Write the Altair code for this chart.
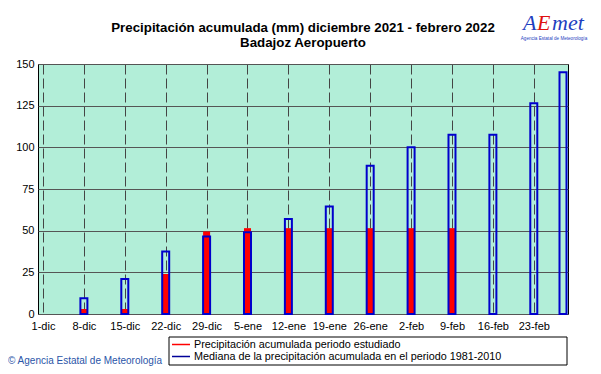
import altair as alt
import pandas as pd

# ---- data ----
period_start = "2021-12-01"
bar_dates = ["2021-12-08", "2021-12-15", "2021-12-22", "2021-12-29", "2022-01-05",
             "2022-01-12", "2022-01-19", "2022-01-26", "2022-02-02", "2022-02-09",
             "2022-02-16", "2022-02-23", "2022-02-28"]
observed = [3, 3, 24, 49.5, 51.5, 51.5, 51.5, 51.5, 51.5, 51.5, None, None, None]
median = [9.5, 21, 37.5, 46.5, 49, 57, 64.5, 89, 100, 107.5, 107.5, 126.5, 145]
tick_dates = ["2021-12-01", "2021-12-08", "2021-12-15", "2021-12-22", "2021-12-29",
              "2022-01-05", "2022-01-12", "2022-01-19", "2022-01-26", "2022-02-02",
              "2022-02-09", "2022-02-16", "2022-02-23"]
tick_labels = ["1-dic", "8-dic", "15-dic", "22-dic", "29-dic", "5-ene", "12-ene",
               "19-ene", "26-ene", "2-feb", "9-feb", "16-feb", "23-feb"]
period_end = "2022-02-28"
y_ticks = [0, 25, 50, 75, 100, 125, 150]

title1 = "Precipitación acumulada (mm) diciembre 2021 - febrero 2022"
title2 = "Badajoz Aeropuerto"
legend_labels = ["Precipitación acumulada periodo estudiado",
                 "Mediana de la precipitación acumulada en el periodo 1981-2010"]
credit = "© Agencia Estatal de Meteorología"

# ---- build table ----
t0 = pd.Timestamp(period_start)
df = pd.DataFrame({
    "day": [(pd.Timestamp(d) - t0).days for d in bar_dates],
    "observed": observed,
    "median": median,
})
tick_days = [(pd.Timestamp(d) - t0).days for d in tick_dates]
end_day = (pd.Timestamp(period_end) - t0).days

FONT = "Liberation Sans"
RED = "#ff0000"
BLUE = "#0000cc"

label_map = "{" + ",".join(f"'{d}':'{l}'" for d, l in zip(tick_days, tick_labels)) + "}"

x_enc = alt.X("day:Q",
              scale=alt.Scale(domain=[0, end_day], nice=False, zero=False),
              axis=alt.Axis(values=tick_days, labelExpr=f"{label_map}[''+datum.value]",
                            title=None, grid=True, gridDash=[10, 4], gridColor="#444444",
                            gridWidth=1, ticks=False, tickSize=0, domain=False,
                            labelPadding=6, labelFont=FONT, labelFontSize=11,
                            labelColor="black", labelOverlap=False, labelFlush=False))

def y_enc(field):
    return alt.Y(f"{field}:Q",
                 scale=alt.Scale(domain=[0, 150], nice=False),
                 axis=alt.Axis(values=y_ticks, title=None, grid=True, gridColor="#555555",
                               gridWidth=1, ticks=False, tickSize=0, domain=False,
                               labelPadding=4, labelFont=FONT, labelFontSize=11,
                               labelColor="black"))

red = alt.Chart(df).mark_bar(color=RED, size=7).encode(x=x_enc, y=y_enc("observed"))
blue = alt.Chart(df).mark_bar(filled=False, stroke=BLUE, strokeWidth=2, size=7).encode(
    x=x_enc, y=y_enc("median"))

one = pd.DataFrame({"a": [0]})

def text(t, x, y, size, bold=False, align="center", color="black", font=FONT,
         italic=False, baseline="alphabetic"):
    kw = dict(text=t, fontSize=size, align=align, color=color, font=font,
              baseline=baseline)
    if bold:
        kw["fontWeight"] = "bold"
    if italic:
        kw["fontStyle"] = "italic"
    return alt.Chart(one).mark_text(**kw).encode(x=alt.value(x), y=alt.value(y))

titles = [
    text(title1, 265, -32, 13.3, bold=True),
    text(title2, 265, -17, 13.3, bold=True),
]

logo = [
    text("A", 485, -34, 22, color="#1f3fbf", font="Liberation Serif", italic=True, align="left"),
    text("E", 499, -34, 22, color="#e01010", font="Liberation Serif", italic=True, align="left"),
    text("met", 514, -34, 22, color="#1f3fbf", font="Liberation Serif", italic=True, align="left"),
    text("Agencia Estatal de Meteorología", 516, -25, 4.6, color="#1f3fbf", baseline="middle"),
]

legend_box = alt.Chart(one).mark_rect(fill="white", stroke="black", strokeWidth=1).encode(
    x=alt.value(131), x2=alt.value(529), y=alt.value(273), y2=alt.value(301))
legend_red = alt.Chart(one).mark_rule(color=RED, strokeWidth=1.5).encode(
    x=alt.value(134), x2=alt.value(152), y=alt.value(280.5))
legend_blue = alt.Chart(one).mark_rule(color="#000099", strokeWidth=1.5).encode(
    x=alt.value(134), x2=alt.value(152), y=alt.value(292.5))
legend_texts = [
    text(legend_labels[0], 156, 280.5, 10.8, align="left", baseline="middle"),
    text(legend_labels[1], 156, 292.5, 10.8, align="left", baseline="middle"),
]

credit_text = text(credit, -30, 297, 10, align="left", color="#2a55a8", baseline="middle")

chart = alt.layer(
    red, blue, *titles, *logo, legend_box, legend_red, legend_blue, *legend_texts, credit_text
).properties(
    width=530, height=250,
    autosize=alt.AutoSizeParams(type="none"),
    padding={"left": 30, "top": 56, "right": 25, "bottom": 52},
    background="white",
).configure_view(
    fill="#b2eed8", stroke="black", strokeWidth=1
)

chart.save("out.html", embed_options={"renderer": "svg", "actions": False})
